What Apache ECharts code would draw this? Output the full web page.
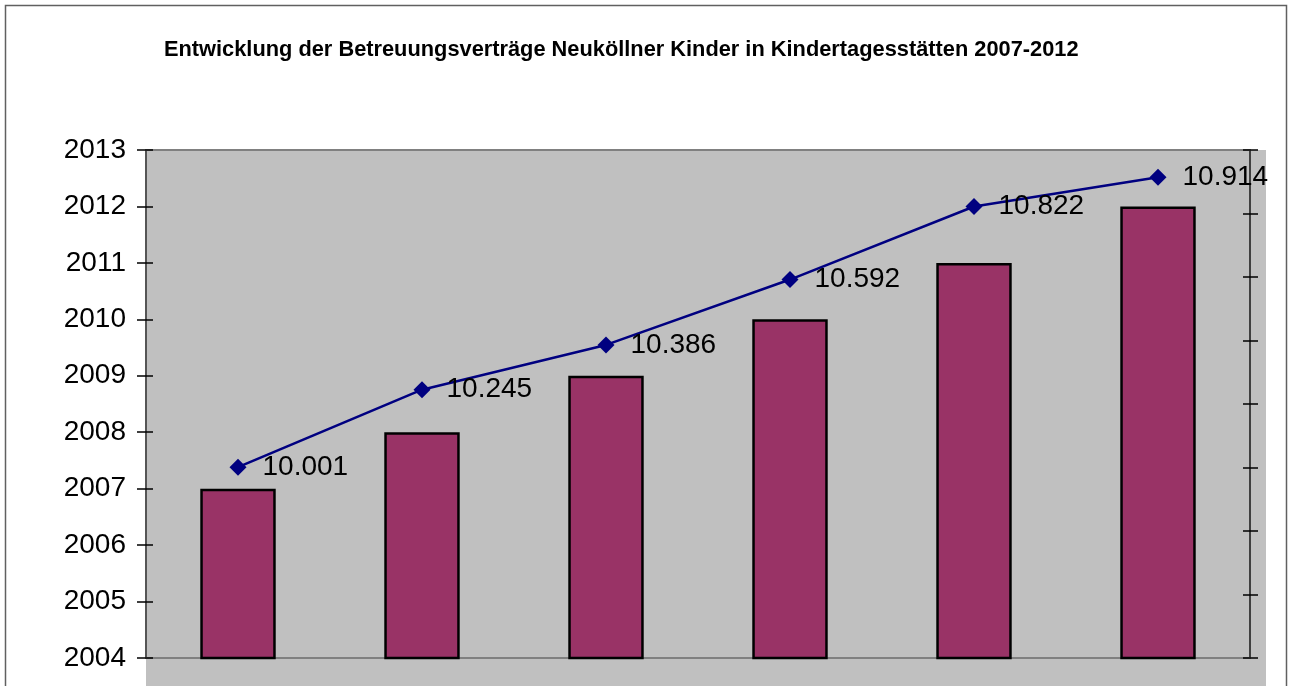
<!DOCTYPE html>
<html>
<head>
<meta charset="utf-8">
<script src="https://cdn.jsdelivr.net/npm/echarts@6/dist/echarts.min.js"></script>
<style>html,body{margin:0;padding:0;background:#fff;}#c{width:1291px;height:686px;}</style>
</head>
<body>
<div id="c"></div>
<script>
const categories = ['2007', '2008', '2009', '2010', '2011', '2012'];
const barValues = [2007, 2008, 2009, 2010, 2011, 2012];
const lineValues = [10001, 10245, 10386, 10592, 10822, 10914];
const leftTicks = { min: 2004, max: 2013, interval: 1 };
const rightTicks = { min: 9400, max: 11000, interval: 200 };

function deFormat(v) {
  const s = String(Math.round(v));
  return s.replace(/\B(?=(\d{3})+(?!\d))/g, '.');
}

const chart = echarts.init(document.getElementById('c'), null, { renderer: 'canvas' });
const tickOnlyAxis = (pos, t) => ({
  type: 'value', position: pos,
  min: t.min, max: t.max, interval: t.interval,
  axisLine: { show: false },
  axisTick: { show: true, inside: true, length: 7, lineStyle: { color: '#000', width: 1.5 } },
  splitLine: { show: false },
  axisLabel: { show: false }
});
chart.setOption({
  animation: false,
  backgroundColor: '#ffffff',
  title: {
    text: 'Entwicklung der Betreuungsverträge Neuköllner Kinder in Kindertagesstätten 2007-2012',
    left: 159,
    top: 34,
    textStyle: {
      fontFamily: '"Liberation Sans Narrow", "Arial Narrow", "Liberation Sans", Arial, sans-serif',
      fontWeight: 'bold',
      fontSize: 21.8,
      color: '#000'
    }
  },
  graphic: [
    { type: 'rect', z: -10, silent: true, shape: { x: 5.5, y: 5.5, width: 1281, height: 700 },
      style: { fill: '#ffffff', stroke: '#606060', lineWidth: 1.5 } },
    { type: 'rect', z: -5, silent: true, shape: { x: 146, y: 150, width: 1120, height: 540 },
      style: { fill: '#c0c0c0' } }
  ],
  grid: { left: 146, right: 41, top: 150, bottom: 28, containLabel: false },
  xAxis: [
    {
      type: 'category', data: categories, position: 'bottom',
      axisLine: { show: true, lineStyle: { color: '#808080', width: 2 } },
      axisTick: { show: false }, axisLabel: { show: false }
    },
    {
      type: 'category', data: categories, position: 'top',
      axisLine: { show: true, lineStyle: { color: '#808080', width: 2 } },
      axisTick: { show: false }, axisLabel: { show: false }
    }
  ],
  yAxis: [
    {
      type: 'value', position: 'left',
      min: leftTicks.min, max: leftTicks.max, interval: leftTicks.interval,
      axisLine: { show: true, lineStyle: { color: '#555555', width: 2 } },
      axisTick: { show: true, length: 9, lineStyle: { color: '#000', width: 1.5 } },
      splitLine: { show: false },
      axisLabel: { fontSize: 28, color: '#000', margin: 20,
        fontFamily: '"Liberation Sans", Arial, sans-serif',
        formatter: v => String(v) }
    },
    {
      type: 'value', position: 'right',
      min: rightTicks.min, max: rightTicks.max, interval: rightTicks.interval,
      axisLine: { show: true, lineStyle: { color: '#404040', width: 2 } },
      axisTick: { show: true, length: 8, lineStyle: { color: '#000', width: 1.5 } },
      splitLine: { show: false },
      axisLabel: { show: false }
    },
    tickOnlyAxis('left', leftTicks),
    tickOnlyAxis('right', rightTicks)
  ],
  series: [
    {
      type: 'bar', xAxisIndex: 0, yAxisIndex: 0, data: barValues,
      barWidth: '41%',
      itemStyle: { color: '#993366', borderColor: '#000', borderWidth: 2.5 }
    },
    {
      type: 'line', xAxisIndex: 0, yAxisIndex: 1, data: lineValues,
      symbol: 'diamond', symbolSize: 17,
      lineStyle: { color: '#000080', width: 2.5 },
      itemStyle: { color: '#000080' },
      label: {
        show: true, position: 'right', distance: 16,
        fontSize: 28, color: '#000',
        fontFamily: '"Liberation Sans", Arial, sans-serif',
        formatter: p => deFormat(p.value)
      }
    }
  ]
});
</script>
</body>
</html>
